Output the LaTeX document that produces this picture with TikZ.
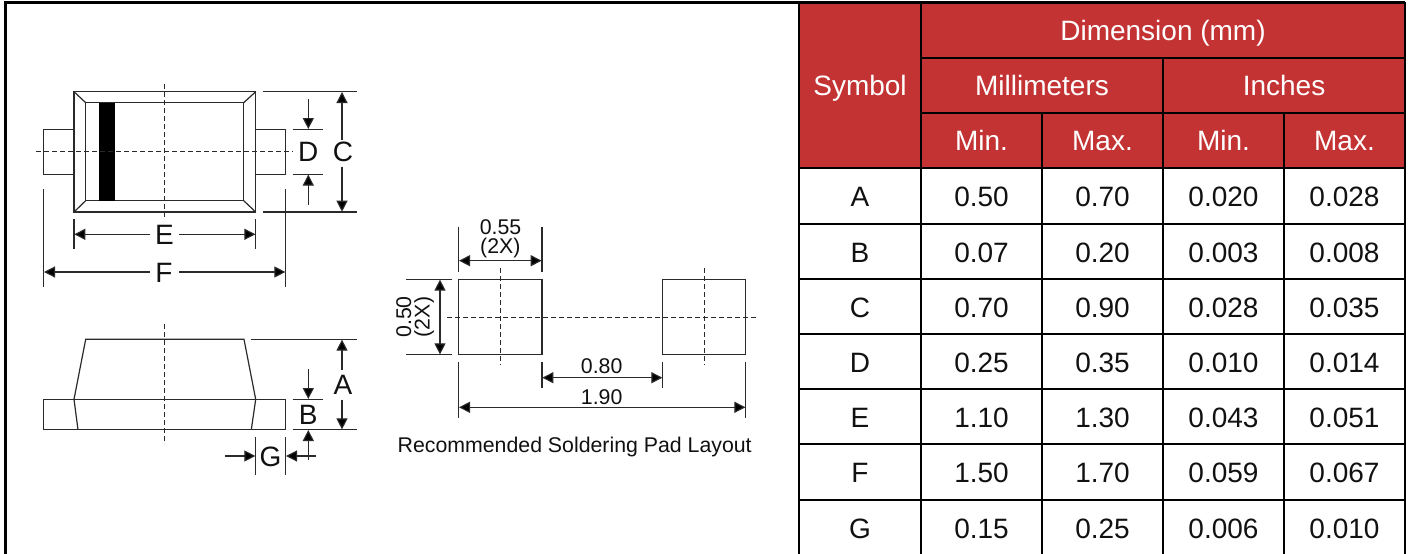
\documentclass[tikz,border=0pt]{standalone}
\usepackage{fontspec}
\setmainfont{Liberation Sans}
\usetikzlibrary{arrows.meta}
\definecolor{hdr}{HTML}{C43333}
\definecolor{ink}{HTML}{111111}
\definecolor{gl}{HTML}{2A2A2A}
\tikzset{
  x=1pt,y=-1pt,
  part/.style={draw=gl,line width=1.2pt},
  bold part/.style={draw=gl,line width=1.35pt},
  ext/.style={draw=gl,line width=1.15pt},
  center line/.style={draw=gl,line width=1pt,dash pattern=on 5pt off 3pt},
  dim/.style={draw=gl,line width=1.15pt,-{Triangle[length=11pt,width=11pt,fill=black]}},
  dimboth/.style={draw=gl,line width=1.15pt,{Triangle[length=11pt,width=11pt,fill=black]}-{Triangle[length=11pt,width=11pt,fill=black]}},
  letter/.style={inner sep=0pt,text=ink,font=\fontsize{28}{28}\selectfont,text height=20pt,text depth=0pt},
  small/.style={inner sep=0pt,text=ink,font=\fontsize{21.3}{21.3}\selectfont,text height=15.3pt,text depth=0pt},
  hcell/.style={inner sep=0pt,text=white,font=\fontsize{28}{28}\selectfont,fill=hdr,yshift=.5pt},
  bcell/.style={inner sep=0pt,text=ink,font=\fontsize{28}{28}\selectfont,fill=white},
}
\newcommand{\cell}[7]{% style, name, x1,y1,x2,y2, text
  \path[#1,yshift=0pt] (#3,#4) rectangle (#5,#6);
  \draw[black,line width=1.7pt] (#3,#4) rectangle (#5,#6);
  \node[#1,fill=none,text height=20pt,text depth=0pt] (#2) at ({(#3+#5)/2},{(#4+#6)/2+.5}) {#7};
}
\begin{document}
\begin{tikzpicture}
\useasboundingbox (0,0) rectangle (1409,554);
\clip (0,0) rectangle (1409,554);
\fill[white] (0,0) rectangle (1409,554);
% frame
\draw[black,line width=2.7pt] (5.3,560) -- (5.3,2.5) -- (1405,2.5);
\draw[black,line width=2pt] (1405,2.5) -- (1405,560);
% top view
\draw[bold part] (74,91.7) rectangle (255.7,212);
\draw[bold part] (85.7,102.7) rectangle (243.7,200.7);
\draw[part] (74,91.7) -- (85.7,102.7) (255.7,91.7) -- (243.7,102.7) (74,212) -- (85.7,200.7) (255.7,212) -- (243.7,200.7);
\fill[black] (99,102.7) rectangle (115,200.7);
\draw[part] (74,129.3) -- (43.7,129.3) -- (43.7,174.3) -- (74,174.3);
\draw[part] (255.7,129.3) -- (285.7,129.3) -- (285.7,174.3) -- (255.7,174.3);
\draw[center line] (36,151.7) -- (293,151.7);
\draw[center line] (164.3,84) -- (164.3,219);
% top view dimensions
\draw[ext] (262.7,91.7) -- (357.3,91.7) (262.7,212) -- (357.3,212);
\draw[ext] (292.7,129.3) -- (323.3,129.3) (292.7,174.3) -- (323.3,174.3);
\draw[ext] (74,219.3) -- (74,249.3) (255.7,219.3) -- (255.7,249.3);
\draw[ext] (43.7,189.3) -- (43.7,287.3) (285.7,189.3) -- (285.7,287.3);
\node[letter] (lD) at (308.3,151) {D};
\node[letter] (lC) at (343,151) {C};
\node[letter] (lE) at (164.5,234.3) {E};
\node[letter] (lF) at (164,272) {F};
\draw[dim] (308.3,99) -- (308.3,129);
\draw[dim] (308.3,204.7) -- (308.3,174.6);
\draw[dim] (342,140) -- (342,92);
\draw[dim] (342,166.7) -- (342,211.7);
\draw[dim] (150,234.3) -- (74.3,234.3);
\draw[dim] (179.3,234.3) -- (255.4,234.3);
\draw[dim] (150,272) -- (44,272);
\draw[dim] (179.3,272) -- (285.4,272);
% side view
\draw[part] (43.7,399.3) rectangle (285.7,429.7);
\draw[part] (78,429.7) -- (74,399.3) -- (85.7,339.3) -- (244,339.3) -- (255.7,399.3) -- (251.3,429.7);
\draw[center line] (164.3,324) -- (164.3,444);
\draw[ext] (250.7,339.3) -- (357.3,339.3) (292.7,429.7) -- (357.3,429.7) (292.7,399.3) -- (323.3,399.3);
\draw[ext] (255.7,437.3) -- (255.7,475) (285.7,437.3) -- (285.7,475);
\node[letter] (lA) at (343,384) {A};
\node[letter] (lB) at (308.3,414) {B};
\node[letter] (lG) at (270.5,456) {G};
\draw[dim] (308.3,369.3) -- (308.3,399);
\draw[dim] (308.3,460) -- (308.3,430);
\draw[dim] (342,370) -- (342,339.6);
\draw[dim] (342,400) -- (342,429.4);
\draw[dim] (225,456) -- (255.4,456);
\draw[dim] (316,456) -- (286,456);
% pads
\draw[part] (458.7,279.3) rectangle (542,354.7);
\draw[part] (662.7,279.3) rectangle (745.7,354.7);
\draw[center line] (447,317) -- (757.7,317);
\draw[center line] (500.3,268.3) -- (500.3,365);
\draw[center line] (704,268.3) -- (704,365);
\draw[ext] (458.7,226.7) -- (458.7,271.7) (542,226.7) -- (542,271.7);
\draw[ext] (406,279.3) -- (451.7,279.3) (406,354.7) -- (451.7,354.7);
\draw[ext] (542,362.3) -- (542,388.3) (662.7,362.3) -- (662.7,388.3);
\draw[ext] (458.7,362.3) -- (458.7,418.3) (745.7,362.3) -- (745.7,418.3);
\draw[dimboth] (459,260.7) -- (541.7,260.7);
\draw[dimboth] (440,279.6) -- (440,354.4);
\draw[dimboth] (542.3,377.7) -- (662.4,377.7);
\draw[dimboth] (459,407.3) -- (745.4,407.3);
\node[small] (t055) at (500.5,227) {0.55};
\node[small] (t2x) at (500.3,245.5) {(2X)};
\node[small,rotate=90] (t050) at (403.5,317) {0.50};
\node[small,rotate=90] (t2y) at (422,317) {(2X)};
\node[small] (t080) at (601.7,366) {0.80};
\node[small] (t190) at (601.7,396.7) {1.90};
\node[small] (cap) at (574.7,445) {Recommended Soldering Pad Layout};
% table
\cell{hcell}{symbol}{799}{3}{921}{168}{Symbol}
\cell{hcell}{dimension}{921}{3}{1405}{58}{Dimension (mm)}
\cell{hcell}{mm}{921}{58}{1163}{113}{Millimeters}
\cell{hcell}{inch}{1163}{58}{1405}{113}{Inches}
\cell{hcell}{minA}{921}{113}{1042}{168}{Min.}
\cell{hcell}{maxA}{1042}{113}{1163}{168}{Max.}
\cell{hcell}{minB}{1163}{113}{1284}{168}{Min.}
\cell{hcell}{maxB}{1284}{113}{1405}{168}{Max.}
\foreach \n/\ya/\yb/\s/\a/\b/\c/\d in {
  a/168/224/A/0.50/0.70/0.020/0.028,
  b/224/279/B/0.07/0.20/0.003/0.008,
  c/279/334/C/0.70/0.90/0.028/0.035,
  d/334/389/D/0.25/0.35/0.010/0.014,
  e/389/444/E/1.10/1.30/0.043/0.051,
  f/444/500/F/1.50/1.70/0.059/0.067,
  g/500/556/G/0.15/0.25/0.006/0.010}{
  \cell{bcell}{s\n}{799}{\ya}{921}{\yb}{\s}
  \cell{bcell}{p\n}{921}{\ya}{1042}{\yb}{\a}
  \cell{bcell}{q\n}{1042}{\ya}{1163}{\yb}{\b}
  \cell{bcell}{r\n}{1163}{\ya}{1284}{\yb}{\c}
  \cell{bcell}{t\n}{1284}{\ya}{1405}{\yb}{\d}
}
\end{tikzpicture}
\end{document}
